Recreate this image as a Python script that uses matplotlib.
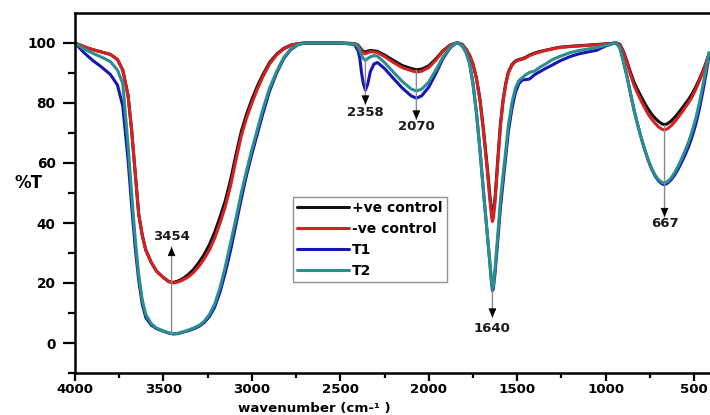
import numpy as np
import matplotlib
matplotlib.use("Agg")
import matplotlib.pyplot as plt

# ---------------- data ----------------
wavenumber = [
    4000, 3950, 3900, 3850, 3800, 3760, 3730, 3700, 3680, 3660,
    3640, 3620, 3600, 3570, 3540, 3500, 3470, 3445, 3420, 3390,
    3360, 3330, 3300, 3270, 3240, 3210, 3180, 3150, 3120, 3090,
    3060, 3030, 3000, 2970, 2940, 2900, 2860, 2820, 2780, 2740,
    2700, 2600, 2500, 2420, 2400, 2390, 2380, 2370, 2358, 2345,
    2330, 2310, 2290, 2250, 2200, 2150, 2100, 2070, 2040, 2000,
    1960, 1920, 1880, 1850, 1835, 1810, 1790, 1770, 1750, 1730,
    1710, 1690, 1670, 1655, 1645, 1640, 1635, 1625, 1610, 1595,
    1580, 1565, 1550, 1530, 1510, 1490, 1470, 1450, 1430, 1400,
    1370, 1340, 1300, 1260, 1200, 1150, 1100, 1050, 1000, 960,
    940, 920, 900, 880, 860, 840, 820, 800, 780, 760,
    740, 720, 700, 680, 667, 650, 630, 610, 590, 570,
    550, 530, 510, 490, 470, 450, 430, 415,
]

pos_control = [
    100, 98.8, 97.8, 97, 96.2, 94.5, 91, 82.5, 71, 57,
    43, 36, 31, 27, 24, 21.8, 20.5, 20.2, 20.6, 21.5,
    22.8, 24.5, 26.8, 29.5, 32.8, 37, 42, 47.5, 54.5, 62.8,
    70.5, 76.3, 81.2, 85.5, 89.2, 93.5, 96.3, 98.2, 99.3, 99.8,
    100, 100, 100, 99.8, 99.3, 98.6, 97.8, 97.2, 97, 97.3,
    97.5, 97.4, 97.2, 96, 94.2, 92.5, 91.5, 91.1, 91.3, 92.4,
    94.7, 97.4, 99.3, 99.9, 100, 99.5, 98, 96, 93, 88.2,
    81, 70.8, 59, 49.5, 44, 42.5, 43.2, 48.5, 61, 72.8,
    81, 86.5, 90.3, 92.8, 94, 94.5, 94.8, 95.3, 96, 96.7,
    97.2, 97.6, 98.1, 98.6, 98.9, 99.1, 99.3, 99.5, 99.7, 99.9,
    100, 99.6, 97.3, 94, 90.3, 87, 84.5, 82.2, 80, 78,
    76.3, 74.9, 73.8, 73, 72.8, 73.1, 74, 75.2, 76.6, 78.1,
    79.7, 81.3, 83.2, 85.4, 87.9, 90.7, 93.8, 96.6,
]

neg_control = [
    100, 98.8, 97.8, 97, 96.2, 94.5, 91, 82.5, 71, 57,
    43, 36, 31, 27, 24, 21.8, 20.4, 20, 20.3, 21,
    22, 23.5, 25.5, 28, 31, 35, 40, 45.5, 52.5, 61,
    69, 75, 80, 84.5, 88.5, 93, 96, 98, 99.2, 99.8,
    100, 100, 100, 99.8, 99.2, 98.3, 97.3, 96.7, 96.4, 96.8,
    97.1, 97, 96.8, 95.5, 93.5, 91.8, 90.8, 90.3, 90.6, 91.8,
    94.3, 97.2, 99.2, 99.9, 100, 99.5, 98, 96, 93, 88,
    80.5, 70, 58, 48, 42, 40.5, 41.5, 47, 60, 72,
    80.5, 86, 90, 92.5, 93.8, 94.3, 94.6, 95.1, 95.8, 96.5,
    97, 97.5, 98, 98.5, 98.8, 99, 99.2, 99.4, 99.6, 99.9,
    100, 99.5, 97, 93.5, 89.5, 86, 83.3, 80.8, 78.5, 76.3,
    74.6, 73.2, 72, 71.2, 71, 71.4, 72.4, 73.7, 75.2, 76.8,
    78.5, 80.2, 82.2, 84.6, 87.3, 90.3, 93.6, 96.5,
]

t1 = [
    100, 96.8, 94.2, 92, 89.5, 86, 79, 61, 46, 32,
    21, 13, 8.5, 6, 4.8, 3.9, 3.3, 3, 3.1, 3.6,
    4.1, 4.7, 5.5, 6.8, 8.8, 12, 17, 23.5, 31, 39.5,
    48, 56, 63, 69.5, 76, 84, 90, 94.8, 97.8, 99.4,
    100, 100, 100, 99.5, 97.5, 95, 90, 86.5, 84.3, 86.3,
    90.5, 93, 93.5, 91.5, 88.2, 85, 82.4, 81.6, 82.4, 85.3,
    89.8, 94.8, 98.3, 99.8, 100, 99, 97, 93.5, 86.5, 76.5,
    64, 50, 37, 27, 20, 17.5, 18, 23.5, 34, 45,
    53.5, 62, 70.5, 78, 83.5, 86.5, 87.7, 87.8, 88, 89.5,
    90.5, 91.5, 92.7, 94, 95.5, 96.4, 97, 97.6, 99, 99.8,
    100, 98.5, 94, 89, 83.3, 77.8, 73, 68.6, 64.6, 61,
    58, 55.6, 54, 53, 52.8, 53.3, 54.4, 56, 58, 60.3,
    62.8, 65.6, 69, 73, 78, 84, 90.5, 96,
]

t2 = [
    100, 98, 96.6, 95.3, 93.8, 91, 86.5, 66, 50, 35,
    23, 14.5, 9.5, 6.5, 5, 4, 3.4, 3.1, 3.2, 3.7,
    4.3, 5, 5.8, 7.2, 9.5, 13, 18.5, 25.5, 33.5, 41.5,
    50, 57.5, 64.5, 71, 77.5, 85, 90.5, 95.2, 98, 99.5,
    100, 100, 100, 99.6, 98.8, 97.5, 96, 94.8, 94.2, 94.8,
    95.4, 95.8, 95.6, 93.5, 90.3, 87.2, 84.7, 84, 84.6, 87,
    91, 95.3, 98.5, 99.8, 100, 99, 97, 93.5, 86.5, 76.5,
    64, 50, 37, 27, 20.5, 18, 18.8, 25, 36, 47.5,
    56, 64, 72.5, 80, 85, 87.5, 88.5, 89.5, 90.2, 90.7,
    92, 93, 94.5, 95.5, 96.8, 97.5, 98, 98.5, 99.2, 99.8,
    100, 98.5, 94, 89, 83.3, 77.8, 73, 68.6, 64.6, 61.2,
    58.2, 55.9, 54.4, 53.5, 53.3, 53.8, 55, 56.8, 59, 61.5,
    64.2, 67.2, 70.8, 75, 80, 86, 92, 96.8,
]

series_names = ["+ve control", "-ve control", "T1", "T2"]
series_colors = ["#111111", "#d42222", "#1717b5", "#2b8f8c"]

peak_wn = [3454, 2358, 2070, 1640, 667]
peak_labels = ["3454", "2358", "2070", "1640", "667"]
arrow_from = [3, 95, 91, 17.5, 72.5]
arrow_to = [32, 79.5, 74.5, 8.5, 42]
label_y = [35.5, 77, 72, 5, 40]

x_ticks = [4000, 3500, 3000, 2500, 2000, 1500, 1000, 500]
y_ticks = [0, 20, 40, 60, 80, 100]

# ---------------- figure ----------------
plt.rcParams["font.family"] = ["DejaVu Sans"]
plt.rcParams["font.weight"] = "bold"

fig = plt.figure(figsize=(7.1, 4.15), dpi=100)
ax = fig.add_axes([75 / 710, 42 / 415, 635 / 710, 360 / 415])

data = [pos_control, neg_control, t1, t2]
for name, vals, col in zip(series_names, data, series_colors):
    ax.plot(wavenumber, vals, color=col, lw=2.2, label=name,
            solid_joinstyle="round", solid_capstyle="round")

ax.set_xlim(4000, 410)
ax.set_ylim(-10, 110)
ax.set_xticks(x_ticks)
ax.set_xticklabels([str(v) for v in x_ticks])
ax.set_xticks([3750, 3250, 2750, 2250, 1750, 1250, 750], minor=True)
ax.set_yticks(y_ticks)
ax.set_yticklabels([str(v) for v in y_ticks])
ax.set_yticks([-10, 10, 30, 50, 70, 90], minor=True)

for s in ["left", "bottom", "top"]:
    ax.spines[s].set_linewidth(1.8)
ax.spines["right"].set_visible(False)

ax.tick_params(axis="y", which="major", length=8.5, width=1.6, pad=5.5,
               labelsize=9.8, direction="out")
ax.tick_params(axis="y", which="minor", length=5, width=1.6, direction="out")
ax.tick_params(axis="x", which="major", length=6.0, width=1.6, pad=1.5,
               labelsize=9.6, direction="out")
ax.tick_params(axis="x", which="minor", length=3.6, width=1.6, direction="out")
ax.tick_params(top=False, right=False, which="both")
for lab in ax.get_xticklabels() + ax.get_yticklabels():
    lab.set_fontweight("bold")

# annotations
for xw, frm, to, ty, txt in zip(peak_wn, arrow_from, arrow_to, label_y, peak_labels):
    ax.annotate("", xy=(xw, to), xytext=(xw, frm),
                arrowprops=dict(arrowstyle="-", color="#8a8a8a", lw=1.0,
                                shrinkA=0, shrinkB=0))
    step = 1.0 if to > frm else -1.0
    ax.annotate("", xy=(xw, to), xytext=(xw, to - step),
                arrowprops=dict(arrowstyle="-|>,head_length=0.55,head_width=0.24",
                                color="black", lw=0.6, shrinkA=0, shrinkB=0,
                                mutation_scale=10))
    ax.text(xw, ty, txt, ha="center", va="center", fontsize=9.5,
            fontweight="bold", color="#1a1a1a")

leg = ax.legend(loc="upper left", bbox_to_anchor=((293 - 75) / 635, (373 - 197) / 360),
                borderaxespad=0, frameon=True, fancybox=False,
                handlelength=3.7, handletextpad=0.25, labelspacing=0.5,
                borderpad=0.3, prop={"weight": "bold", "size": 10})
leg.get_frame().set_edgecolor("#777777")
leg.get_frame().set_linewidth(1.0)
for line in leg.get_lines():
    line.set_linewidth(2.2)

fig.text(28 / 710, 1 - 183 / 415, "%T", ha="center", va="center",
         fontsize=12, fontweight="bold")
fig.text(314 / 710, 0.5 / 415, "wavenumber (cm-\u00b9 )", ha="center",
         va="bottom", fontsize=9.6, fontweight="bold")

fig.savefig("out.png", dpi=100)
